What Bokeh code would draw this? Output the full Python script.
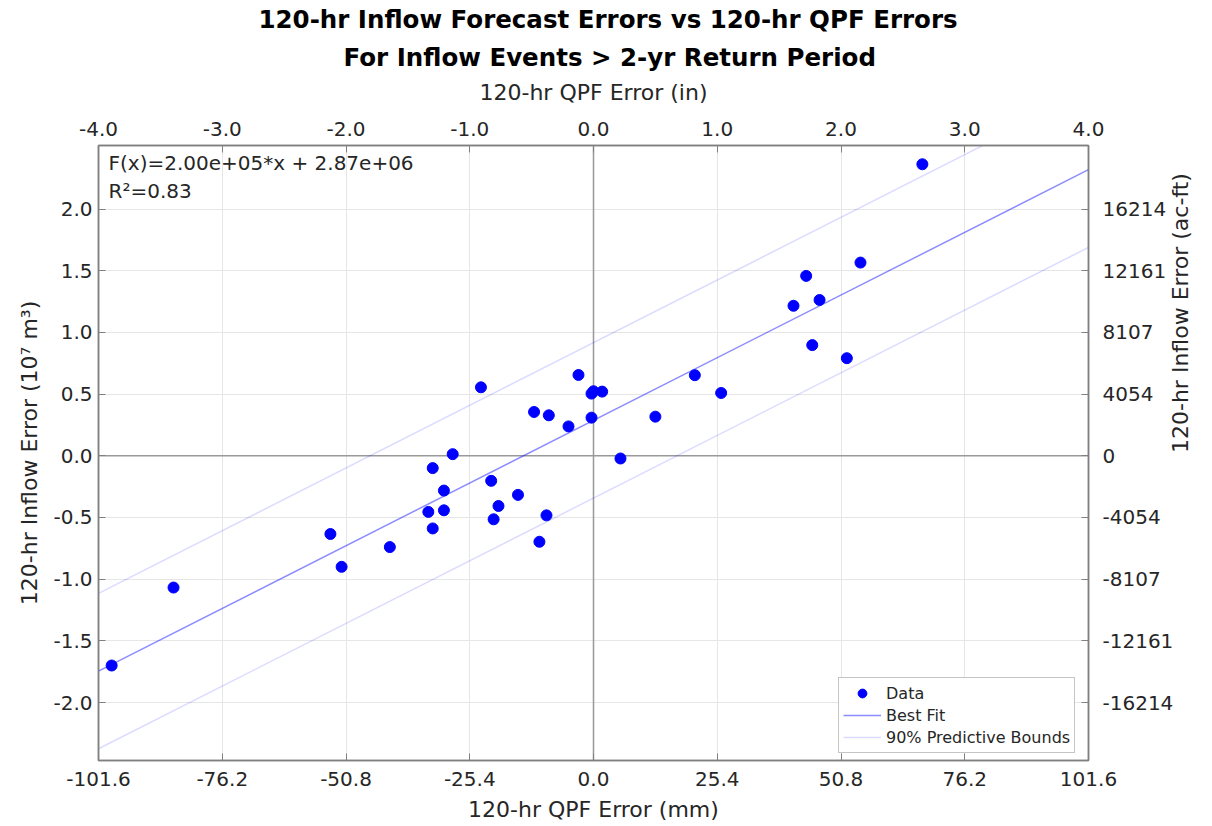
import math
import numpy as np
from bokeh.plotting import figure
from bokeh.models import (LinearAxis, Range1d, FixedTicker, CustomJSTickFormatter,
                          Title, Span, Label, Legend, LegendItem)
from bokeh.embed import file_html
from bokeh.resources import INLINE

# ---------------- data ----------------
qpf_err_mm = [-98.9, -86.2, -54.0, -51.7, -41.8, -33.9, -33.0, -33.0, -30.7, -30.7,
              -28.9, -21.0, -20.5, -19.5, -15.5, -11.1, -9.65,
              -23.1, -12.2, -9.17, -5.13, -3.08, -0.41, 0.0, 1.78, -0.41,
              12.7, 20.8, 26.2, 5.54, 41.05, 43.65, 46.4, 44.9, 52.0, 54.8, 67.5]
inflow_err = [-1.70, -1.068, -0.634, -0.90, -0.74, -0.455, -0.10, -0.589, -0.282, -0.442,
              0.013, -0.203, -0.515, -0.407, -0.317, -0.697, -0.483,
              0.555, 0.355, 0.328, 0.238, 0.655, 0.504, 0.523, 0.52, 0.309,
              0.317, 0.653, 0.509, -0.022, 1.216, 1.458, 1.263, 0.897, 0.791, 1.566, 2.363]

fit_slope = 0.0200        # (10^7 m^3) per mm  -> 2.00e+05 m^3/mm
fit_intercept = 0.287     # 10^7 m^3          -> 2.87e+06 m^3
bound_halfwidth = 0.63    # 90% predictive bound half width (10^7 m^3)

x_limits = [-101.6, 101.6]
y_limits = [-2.47, 2.515]
x_ticks_mm = [-101.6, -76.2, -50.8, -25.4, 0.0, 25.4, 50.8, 76.2, 101.6]
y_ticks = [-2.0, -1.5, -1.0, -0.5, 0.0, 0.5, 1.0, 1.5, 2.0]

title_1 = "120-hr Inflow Forecast Errors vs 120-hr QPF Errors"
title_2 = "For Inflow Events > 2-yr Return Period"
x_label_bottom = "120-hr QPF Error (mm)"
x_label_top = "120-hr QPF Error (in)"
y_label_left = "120-hr Inflow Error (10\u2077 m\u00b3)"
y_label_right = "120-hr Inflow Error (ac-ft)"
fit_text = "F(x)=2.00e+05*x + 2.87e+06"
r2_text = "R\u00b2=0.83"

FONT = "DejaVu Sans"
TXT = "#262626"
AX = "#808080"

FRAME_W, FRAME_H = 990, 613
p = figure(width=1210, height=824, output_backend="svg", toolbar_location=None,
           title=None,
           x_range=Range1d(*x_limits), y_range=Range1d(*y_limits),
           min_border_left=98, min_border_right=122, min_border_top=145,
           min_border_bottom=62)
p.background_fill_color = "white"
p.border_fill_color = "white"
p.outline_line_color = AX
p.outline_line_width = 1.5


def style_axis(ax, label):
    ax.axis_label = label
    ax.axis_label_text_font = FONT
    ax.axis_label_text_font_size = "22px"
    ax.axis_label_text_font_style = "normal"
    ax.axis_label_text_color = TXT
    ax.major_label_text_font = FONT
    ax.major_label_text_font_size = "20px"
    ax.major_label_text_color = TXT
    ax.axis_line_color = AX
    ax.axis_line_width = 1.5
    ax.major_tick_line_color = AX
    ax.major_tick_in = 7
    ax.major_tick_out = 0
    ax.minor_tick_line_color = None


# bottom axis (mm)
xb = p.xaxis[0]
xb.ticker = FixedTicker(ticks=x_ticks_mm)
xb.formatter = CustomJSTickFormatter(code="return tick.toFixed(1);")
style_axis(xb, x_label_bottom)
xb.major_label_standoff = 11
xb.axis_label_standoff = 8

# left axis
yl = p.yaxis[0]
yl.ticker = FixedTicker(ticks=y_ticks)
yl.formatter = CustomJSTickFormatter(code="return tick.toFixed(1);")
style_axis(yl, y_label_left)
yl.major_label_standoff = 6
yl.axis_label_standoff = 8

# top axis (inches)
xt = LinearAxis(ticker=FixedTicker(ticks=x_ticks_mm),
                formatter=CustomJSTickFormatter(code="return (tick/25.4).toFixed(1);"))
style_axis(xt, x_label_top)
xt.major_label_standoff = 10
xt.axis_label_standoff = 14
p.add_layout(xt, "above")

# right axis (ac-ft)
yr = LinearAxis(ticker=FixedTicker(ticks=y_ticks),
                formatter=CustomJSTickFormatter(code="return Math.round(tick*1e7/1233.48).toString();"))
style_axis(yr, y_label_right)
yr.major_label_standoff = 14
yr.axis_label_standoff = 4
if "axis_label_orientation" in yr.properties():
    yr.axis_label_orientation = math.pi / 2
p.add_layout(yr, "right")

# titles
p.add_layout(Title(text=title_2, align="left", offset=245, text_font=FONT,
                   text_font_size="24.5px", text_font_style="bold", text_color="black",
                   standoff=10), "above")
p.add_layout(Title(text=title_1, align="left", offset=160, text_font=FONT,
                   text_font_size="24.5px", text_font_style="bold", text_color="black",
                   standoff=3), "above")

# grid
p.xgrid.ticker = FixedTicker(ticks=x_ticks_mm)
p.ygrid.ticker = FixedTicker(ticks=y_ticks)
for g in (p.xgrid[0], p.ygrid[0]):
    g.grid_line_color = "#e6e6e6"
    g.grid_line_width = 1

# zero lines
p.add_layout(Span(location=0, dimension="height", line_color="#999999", line_width=1.5,
                  level="underlay"))
p.add_layout(Span(location=0, dimension="width", line_color="#999999", line_width=1.5,
                  level="underlay"))

# fit + bounds
xf = np.array(x_limits)
yf = fit_slope * xf + fit_intercept
r_fit = p.line(xf, yf, line_color="blue", line_alpha=0.45, line_width=1.5)
r_up = p.line(xf, yf + bound_halfwidth, line_color="blue", line_alpha=0.14, line_width=1.5)
r_lo = p.line(xf, yf - bound_halfwidth, line_color="blue", line_alpha=0.14, line_width=1.5)

# data
r_data = p.scatter(qpf_err_mm, inflow_err, size=11, fill_color="blue", line_color="blue")

# annotation text
p.add_layout(Label(x=10, y=FRAME_H - 15, x_units="screen", y_units="screen", text=fit_text,
                   text_baseline="alphabetic", text_font=FONT, text_font_size="20px",
                   text_color=TXT))
p.add_layout(Label(x=10, y=FRAME_H - 43, x_units="screen", y_units="screen", text=r2_text,
                   text_baseline="alphabetic", text_font=FONT, text_font_size="20px",
                   text_color=TXT))

legend = Legend(items=[LegendItem(label="Data", renderers=[r_data]),
                       LegendItem(label="Best Fit", renderers=[r_fit]),
                       LegendItem(label="90% Predictive Bounds", renderers=[r_up])],
                location=(740, 7), label_text_font=FONT, label_text_font_size="16px",
                label_text_color=TXT, border_line_color="#8c8c8c", border_line_width=1.5,
                padding=4, spacing=0, label_height=22, glyph_height=22, glyph_width=38,
                margin=0, label_standoff=5, background_fill_alpha=1)
p.add_layout(legend, "center")

open("out.html", "w").write(file_html(p, INLINE))
